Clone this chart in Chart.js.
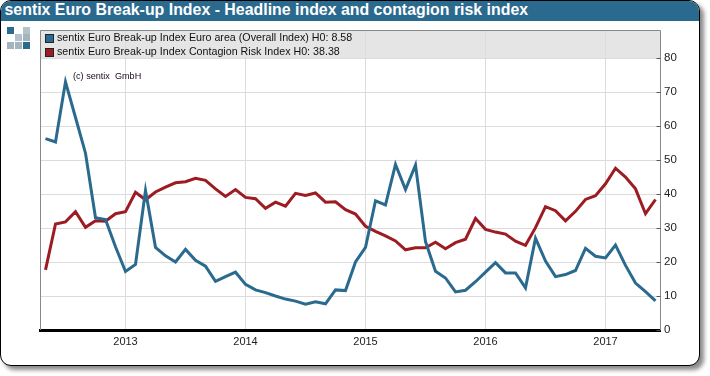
<!DOCTYPE html>
<html>
<head>
<meta charset="utf-8">
<title>sentix Euro Break-up Index</title>
<script src="https://cdn.jsdelivr.net/npm/chart.js@4"></script>
<style>
  html, body { margin: 0; padding: 0; background: #fff; overflow: hidden; }
  #frame {
    position: absolute; left: 0; top: 0; width: 698px; height: 364px;
    border: 1.5px solid #000; border-radius: 11px; background: #fff;
    box-shadow: 4px 4px 4px #8a8a8a; overflow: hidden;
  }
  #title {
    background: #2a6a8f; color: #fff; height: 19.5px; line-height: 20px;
    font: bold 15.9px "Liberation Sans", Arial, sans-serif; padding-left: 3.5px; white-space: nowrap;
  }
  #logo i { position: absolute; width: 7px; height: 7px; }
  #chart-wrap { position: absolute; left: 0; top: 0; width: 710px; height: 376px; }
</style>
</head>
<body>
<div id="frame"><div id="title">sentix Euro Break-up Index - Headline index and contagion risk index</div></div>
<div id="logo">
  <i style="left:7px;top:27px;background:#2a6a8f"></i>
  <i style="left:23px;top:27px;background:#b4c2cb"></i>
  <i style="left:15px;top:34px;background:#b4c2cb"></i>
  <i style="left:23px;top:34px;background:#a3b4bf"></i>
  <i style="left:7px;top:42px;background:#a3b4bf"></i>
  <i style="left:15px;top:42px;background:#a3b4bf"></i>
  <i style="left:23px;top:42px;background:#2a6a8f"></i>
</div>
<div id="chart-wrap"><canvas id="break-up-chart" width="710" height="376"></canvas></div>

<script>
// months from 2012-05 to 2017-06
const months = [
  '2012-05', '2012-06', '2012-07', '2012-08', '2012-09', '2012-10', '2012-11', '2012-12',
  '2013-01', '2013-02', '2013-03', '2013-04', '2013-05', '2013-06', '2013-07', '2013-08', '2013-09', '2013-10', '2013-11', '2013-12',
  '2014-01', '2014-02', '2014-03', '2014-04', '2014-05', '2014-06', '2014-07', '2014-08', '2014-09', '2014-10', '2014-11', '2014-12',
  '2015-01', '2015-02', '2015-03', '2015-04', '2015-05', '2015-06', '2015-07', '2015-08', '2015-09', '2015-10', '2015-11', '2015-12',
  '2016-01', '2016-02', '2016-03', '2016-04', '2016-05', '2016-06', '2016-07', '2016-08', '2016-09', '2016-10', '2016-11', '2016-12',
  '2017-01', '2017-02', '2017-03', '2017-04', '2017-05', '2017-06'
]
const overallIndex = [
  56.3, 55.3, 73, 62.5, 52, 33, 32.5, 24.5,
  17.2, 19.3, 41, 24.3, 21.8, 20, 23.7, 20.5, 18.8, 14.3, 15.7, 17,
  13.4, 11.8, 11, 10, 9.1, 8.5, 7.6, 8.3, 7.7, 11.8, 11.6, 20,
  24.3, 38, 36.8, 48.7, 41.3, 48.5, 26, 17.3, 15.3, 11.2, 11.7, 14.2,
  17, 19.8, 16.8, 16.8, 12.4, 27, 20.3, 15.7, 16.3, 17.5, 24, 21.7,
  21.2, 25, 19, 13.8, 11.3, 8.58
]
const contagionIndex = [
  17.7, 31.2, 31.8, 34.8, 30.2, 32.1, 32, 34.2,
  34.8, 40.5, 38.3, 40.6, 42, 43.3, 43.6, 44.6, 44, 41.5, 39.3, 41.3,
  39, 38.6, 35.8, 37.6, 36.4, 40.2, 39.6, 40.3, 37.6, 37.7, 35.4, 34.1,
  30.5, 29, 27.7, 26.2, 23.6, 24.2, 24.2, 25.8, 23.9, 25.7, 26.7, 32.8,
  29.6, 28.8, 28.2, 26.1, 24.9, 30.1, 36.3, 35.1, 32.1, 34.9, 38.4, 39.5,
  43, 47.6, 45, 41.5, 34.2, 38.38
]
const yTicks = [0, 10, 20, 30, 40, 50, 60, 70, 80]
const overallLabel = 'sentix Euro Break-up Index Euro area (Overall Index) H0: 8.58'
const contagionLabel = 'sentix Euro Break-up Index Contagion Risk Index H0: 38.38'
const copyright = '(c) sentix  GmbH'

const BLUE = '#2a6a8f'
const RED = '#9c1c22'
const FONT = '"Liberation Sans", Arial, sans-serif'

// grey legend band, plot outline, inward y ticks, legend rows and the copyright note
const framePlugin = {
  id: 'frame',
  beforeDraw(chart) {
    const { ctx, chartArea: a, scales } = chart
    ctx.save()
    ctx.fillStyle = '#e5e5e5'
    ctx.fillRect(a.left, a.top, a.right - a.left, scales.y.getPixelForValue(80) - a.top)
    ctx.restore()
  },
  beforeDatasetsDraw(chart) {
    const { ctx, chartArea: a, scales } = chart
    ctx.save()
    ctx.strokeStyle = '#888888'
    ctx.lineWidth = 1
    ctx.beginPath()
    ctx.moveTo(a.left, a.bottom)
    ctx.lineTo(a.left, a.top)
    ctx.lineTo(a.right, a.top)
    ctx.lineTo(a.right, a.bottom)
    ctx.stroke()
    ctx.strokeStyle = '#555555'
    ctx.beginPath()
    yTicks.forEach(v => {
      const y = Math.floor(scales.y.getPixelForValue(v)) + 0.5
      ctx.moveTo(a.right - 4, y)
      ctx.lineTo(a.right, y)
    })
    ctx.stroke()

    ctx.font = '10.7px ' + FONT
    ctx.textBaseline = 'middle'
    chart.data.datasets.forEach((ds, i) => {
      const y = 34.5 + i * 14
      ctx.fillStyle = ds.borderColor
      ctx.fillRect(45.5, y, 8, 8)
      ctx.strokeStyle = '#222222'
      ctx.strokeRect(45.5, y, 8, 8)
      ctx.fillStyle = '#111111'
      ctx.fillText(ds.label, 57, y + 4)
    })
    ctx.font = '9.1px ' + FONT
    ctx.fillStyle = '#1a0a20'
    ctx.fillText(copyright, 73, 76)
    ctx.restore()
  }
}

new Chart(document.getElementById('break-up-chart'), {
  type: 'line',
  data: {
    labels: months,
    datasets: [
      { label: overallLabel, data: overallIndex, borderColor: BLUE, borderWidth: 3, pointRadius: 0, tension: 0 },
      { label: contagionLabel, data: contagionIndex, borderColor: RED, borderWidth: 3, pointRadius: 0, tension: 0 }
    ]
  },
  options: {
    responsive: false,
    animation: false,
    layout: { padding: { left: 40.5, top: 30.5, right: 0, bottom: 0 } },
    plugins: { legend: { display: false }, tooltip: { enabled: false } },
    scales: {
      x: {
        offset: true,
        afterBuildTicks: scale => { scale.ticks = scale.ticks.filter(t => months[t.value].endsWith('-01')) },
        afterFit: scale => { scale.height = 46 },
        grid: { offset: false, color: '#dcdcdc', lineWidth: 1, drawTicks: false },
        border: { color: '#000000', width: 3 },
        ticks: {
          autoSkip: false, maxRotation: 0, padding: 5,
          color: '#222222', font: { family: FONT, size: 11 },
          callback(v) { return months[v].slice(0, 4) }
        }
      },
      y: {
        position: 'right',
        min: 0,
        max: 88.09,
        afterBuildTicks: scale => { scale.ticks = yTicks.map(value => ({ value })) },
        afterFit: scale => { scale.width = 49.5 },
        grid: { color: '#dcdcdc', lineWidth: 1, drawTicks: false },
        border: { display: false },
        ticks: { padding: 3.5, color: '#222222', font: { family: FONT, size: 11.5 } }
      }
    }
  },
  plugins: [framePlugin]
})
</script>
</body>
</html>
